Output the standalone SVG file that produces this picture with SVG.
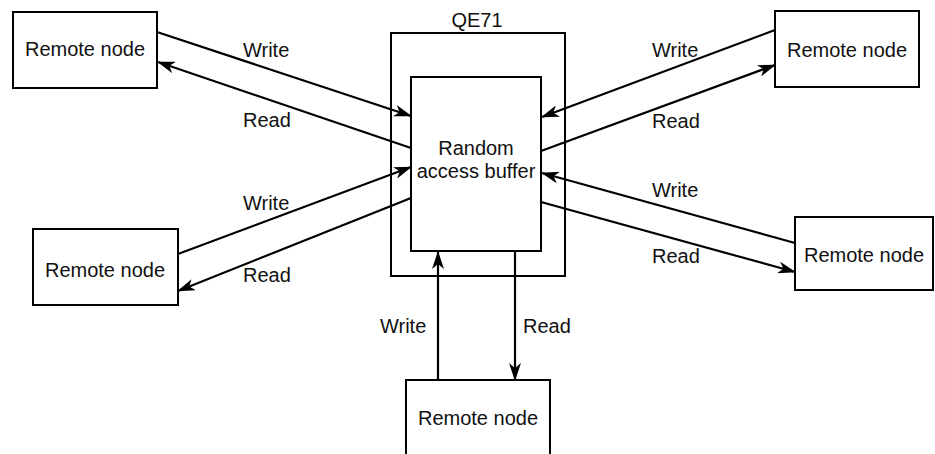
<svg xmlns="http://www.w3.org/2000/svg" width="935" height="454" viewBox="0 0 935 454">
<style>
.box{fill:#fff;stroke:#000;stroke-width:2}
.t{font-family:"Liberation Sans",Arial,sans-serif;font-size:20px;fill:#111}
.c{stroke:#000;stroke-width:2.2;fill:none;marker-end:url(#ah)}
</style>
<defs>
<marker id="ah" markerUnits="userSpaceOnUse" viewBox="0 0 18 12" refX="17" refY="6" markerWidth="18" markerHeight="12" orient="auto">
<path d="M0,0 L18,6 L0,12 L5,6 z" fill="#000"/>
</marker>
</defs>
<rect width="935" height="454" fill="#fff"/>
<g id="qe71">
<rect class="box" x="391" y="33" width="174" height="243"/>
<text class="t" x="477" y="27" text-anchor="middle">QE71</text>
</g>
<g id="buffer">
<rect class="box" x="411" y="77" width="130" height="174"/>
<text class="t" x="476" y="155" text-anchor="middle">Random</text>
<text class="t" x="476" y="178" text-anchor="middle">access buffer</text>
</g>
<g id="node-tl">
<rect class="box" x="13" y="12" width="144" height="76"/>
<text class="t" x="85" y="56" text-anchor="middle">Remote node</text>
</g>
<g id="node-tr">
<rect class="box" x="775" y="11" width="144" height="76"/>
<text class="t" x="847" y="57" text-anchor="middle">Remote node</text>
</g>
<g id="node-ml">
<rect class="box" x="33" y="229" width="145" height="76"/>
<text class="t" x="105" y="277" text-anchor="middle">Remote node</text>
</g>
<g id="node-mr">
<rect class="box" x="795" y="217" width="138" height="73"/>
<text class="t" x="864" y="262" text-anchor="middle">Remote node</text>
</g>
<g id="node-b">
<rect class="box" x="406" y="380" width="144" height="80"/>
<text class="t" x="478" y="425" text-anchor="middle">Remote node</text>
</g>
<g id="connectors">
<line class="c" x1="157" y1="32" x2="411" y2="116"/>
<line class="c" x1="411" y1="148" x2="158" y2="62"/>
<line class="c" x1="775" y1="30" x2="542" y2="117"/>
<line class="c" x1="541" y1="151" x2="775" y2="65"/>
<line class="c" x1="178" y1="254" x2="411" y2="167"/>
<line class="c" x1="411" y1="198" x2="178" y2="291"/>
<line class="c" x1="795" y1="243" x2="542" y2="173"/>
<line class="c" x1="541" y1="202" x2="795" y2="272"/>
<line class="c" x1="438" y1="380" x2="438" y2="252"/>
<line class="c" x1="515" y1="251" x2="515" y2="380"/>
</g>
<g id="labels">
<text class="t" x="243" y="57">Write</text>
<text class="t" x="243" y="127">Read</text>
<text class="t" x="652" y="57">Write</text>
<text class="t" x="652" y="128">Read</text>
<text class="t" x="243" y="210">Write</text>
<text class="t" x="243" y="282">Read</text>
<text class="t" x="652" y="197">Write</text>
<text class="t" x="652" y="263">Read</text>
<text class="t" x="380" y="333">Write</text>
<text class="t" x="523" y="333">Read</text>
</g>
</svg>
